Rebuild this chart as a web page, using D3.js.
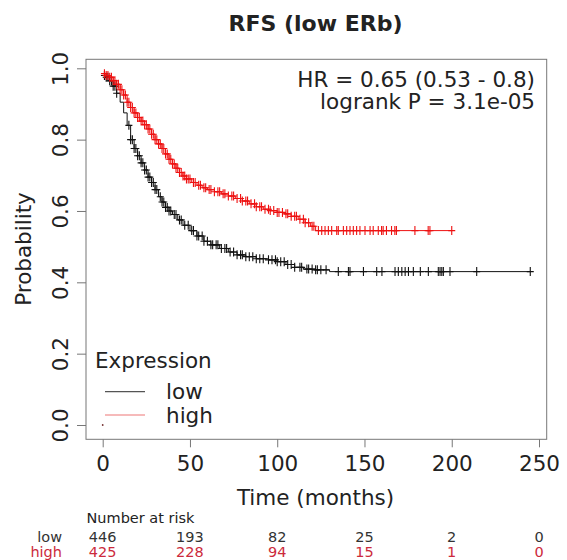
<!DOCTYPE html>
<html>
<head>
<script src="https://d3js.org/d3.v7.min.js"></script>
<style>
  body { margin: 0; background: #fff; }
  text { font-family: "DejaVu Sans", sans-serif; fill: #222; }
</style>
</head>
<body>
<svg id="chart" width="567" height="560"></svg>

<script>
// Kaplan-Meier steps: [time, survival]
var lowSteps = [[0,0.98],[2,0.975],[4,0.965],[6,0.95],[8,0.93],[10,0.905],[12,0.875],[14,0.84],
  [16,0.80],[18,0.775],[20,0.755],[22,0.735],[24,0.715],[26,0.695],[28,0.68],[30,0.66],[32,0.64],
  [34,0.625],[36,0.61],[38,0.60],[40,0.59],[43,0.575],[46,0.56],[50,0.545],[54,0.53],[58,0.515],
  [62,0.505],[67,0.495],[72,0.485],[77,0.477],[82,0.472],[88,0.466],[95,0.463],[100,0.458],
  [105,0.45],[110,0.442],[115,0.437],[122,0.435],[130,0.43],[245,0.43]];
var highSteps = [[0,0.985],[2,0.98],[4,0.975],[6,0.965],[8,0.955],[10,0.94],[12,0.925],[14,0.905],
  [16,0.89],[18,0.875],[20,0.862],[22,0.852],[24,0.842],[26,0.83],[28,0.815],[30,0.80],[32,0.788],
  [34,0.775],[36,0.76],[38,0.745],[40,0.732],[42,0.72],[44,0.708],[46,0.698],[48,0.69],[51,0.68],
  [54,0.672],[57,0.665],[60,0.66],[64,0.654],[68,0.648],[72,0.642],[76,0.635],[80,0.628],[84,0.62],
  [88,0.612],[92,0.605],[96,0.601],[100,0.596],[104,0.592],[108,0.585],[112,0.577],[116,0.567],
  [119,0.557],[122,0.545],[200,0.545]];

// censoring times (+ marks)
var lowCensor = [1,2,3,4,5,6,7,8,15,16,17,18,19,20,21,22,23,24,25,26,27,28,29,30,31,33,34,35,36,37,38,39,
  41,42,44,45,47,49,51,52,54,55,57,58,60,62,63,65,66,68,70,71,73,75,77,79,80,82,84,86,88,90,92,95,97,
  99,100,102,104,106,108,110,113,114,117,118,120,122,123,125,128,
  135,140.8,141.7,149.4,157,160,167.5,169.4,171.4,173.3,175.2,178,182,186.6,192.3,193.3,194.3,195.2,
  199,214.3,245];
var highCensor = [1,2,3,4,5,6,7,8,9,10,11,12,13,14,15,16,17,18,19,20,21,22,23,24,25,26,27,28,29,30,31,
  32,33,34,35,36,37,38,39,40,41,42,43,44,45,46,47,48,49,50,52,53,55,56,58,59,61,62,64,66,67,69,70,72,
  74,75,77,79,80,82,83,85,87,88,90,91,93,95,96,98,100,101,103,105,106,108,110,111,113,115,116,118,120,
  121,123.6,125.5,127.4,129.3,131.2,134.1,135,137.9,139.8,141.7,143.6,145.5,147.4,150.3,153.2,155,
  157.9,159.8,160.7,162.6,165.5,167.4,168.3,178.9,186.5,187.5,200];

var xTicks = [0, 50, 100, 150, 200, 250];
var yTicks = [0, 0.2, 0.4, 0.6, 0.8, 1.0];
var riskLow = [446, 193, 82, 25, 2, 0];
var riskHigh = [425, 228, 94, 15, 1, 0];

var svg = d3.select("#chart");
svg.append("rect").attr("width", 567).attr("height", 560).attr("fill", "#fff");

// plot box in pixels
var box = {left: 86, right: 546.7, top: 59.3, bottom: 439.3};

var x = d3.scaleLinear().domain([0, 250]).range([102.7, 539]);
var y = d3.scaleLinear().domain([0, 1]).range([425, 68.3]);

// title
svg.append("text").attr("x", 315.5).attr("y", 31).attr("text-anchor", "middle")
  .style("font-size", "22px").style("font-weight", "bold").text("RFS (low ERb)");

// axes
var xAxis = svg.append("g").attr("transform", "translate(0," + box.bottom + ")")
  .call(d3.axisBottom(x).tickValues(xTicks).tickSize(8).tickPadding(8).tickFormat(d3.format("d")));
xAxis.select(".domain").remove();
xAxis.selectAll("line").attr("stroke", "#777");
xAxis.selectAll("text").style("font-size", "21.5px").attr("fill", "#222").attr("dy", null).attr("y", 32);

var yAxis = svg.append("g").attr("transform", "translate(" + box.left + ",0)")
  .call(d3.axisLeft(y).tickValues(yTicks).tickSize(9).tickFormat(d3.format(".1f")));
yAxis.select(".domain").remove();
yAxis.selectAll("line").attr("stroke", "#777");
yAxis.selectAll("text").remove();
yAxis.selectAll(".tick").append("text")
  .attr("transform", "translate(-18,0) rotate(-90)")
  .attr("text-anchor", "middle")
  .style("font-size", "21.5px").attr("fill", "#222")
  .text(function(d) { return d3.format(".1f")(d); });

svg.append("rect").attr("x", box.left).attr("y", box.top)
  .attr("width", box.right - box.left).attr("height", box.bottom - box.top)
  .attr("fill", "none").attr("stroke", "#777").attr("stroke-width", 1);

// axis titles
svg.append("text").attr("transform", "translate(31,249) rotate(-90)").attr("text-anchor", "middle")
  .style("font-size", "21.5px").text("Probability");
svg.append("text").attr("x", 315.5).attr("y", 505).attr("text-anchor", "middle")
  .style("font-size", "21.5px").text("Time (months)");

// curves
var line = d3.line().x(function(d) { return x(d[0]); }).y(function(d) { return y(d[1]); })
  .curve(d3.curveStepAfter);

function survAt(steps, t) {
  var s = steps[0][1];
  steps.forEach(function(d) { if (d[0] <= t) s = d[1]; });
  return s;
}

function drawGroup(steps, censor, color) {
  svg.append("path").datum(steps).attr("d", line)
    .attr("fill", "none").attr("stroke", color).attr("stroke-width", 1);
  svg.append("g").selectAll("path").data(censor).join("path")
    .attr("d", function(t) {
      var px = x(t), py = y(survAt(steps, t));
      return "M" + (px - 3.5) + "," + py + "H" + (px + 3.5) + "M" + px + "," + (py - 4.5) + "V" + (py + 4.5);
    })
    .attr("stroke", color).attr("stroke-width", 1.1);
}
drawGroup(lowSteps, lowCensor, "#111");
drawGroup(highSteps, highCensor, "#ee1111");

// tiny dot at origin
svg.append("circle").attr("cx", x(0)).attr("cy", y(0)).attr("r", 0.9).attr("fill", "#733");

// HR text
svg.append("text").attr("x", 535).attr("y", 86.7).attr("text-anchor", "end")
  .style("font-size", "21.5px").text("HR = 0.65 (0.53 - 0.8)");
svg.append("text").attr("x", 535).attr("y", 109.3).attr("text-anchor", "end")
  .style("font-size", "21.5px").text("logrank P = 3.1e-05");

// legend
svg.append("text").attr("x", 95).attr("y", 368).style("font-size", "21.5px").text("Expression");
var legendItems = [{label: "low", color: "#555", y: 391.7}, {label: "high", color: "#e77", y: 415}];
legendItems.forEach(function(d) {
  svg.append("line").attr("x1", 105).attr("x2", 145).attr("y1", d.y).attr("y2", d.y)
    .attr("stroke", d.color).attr("stroke-width", 1.2);
  svg.append("text").attr("x", 166).attr("y", d.y + 7.5).style("font-size", "21.5px").text(d.label);
});

// number at risk table
svg.append("text").attr("x", 86.5).attr("y", 523.3).style("font-size", "14.5px").attr("fill", "#333")
  .text("Number at risk");
var rows = [{label: "low", values: riskLow, color: "#333", y: 541.7},
            {label: "high", values: riskHigh, color: "#cc2a3c", y: 556.5}];
rows.forEach(function(r) {
  svg.append("text").attr("x", 62).attr("y", r.y).attr("text-anchor", "end")
    .style("font-size", "14.5px").style("fill", r.color).text(r.label);
  svg.append("g").selectAll("text").data(r.values).join("text")
    .attr("x", function(d, i) { return x(xTicks[i]); }).attr("y", r.y)
    .attr("text-anchor", "middle").style("font-size", "14.5px").style("fill", r.color)
    .text(function(d) { return d; });
});
</script>
</body>
</html>
